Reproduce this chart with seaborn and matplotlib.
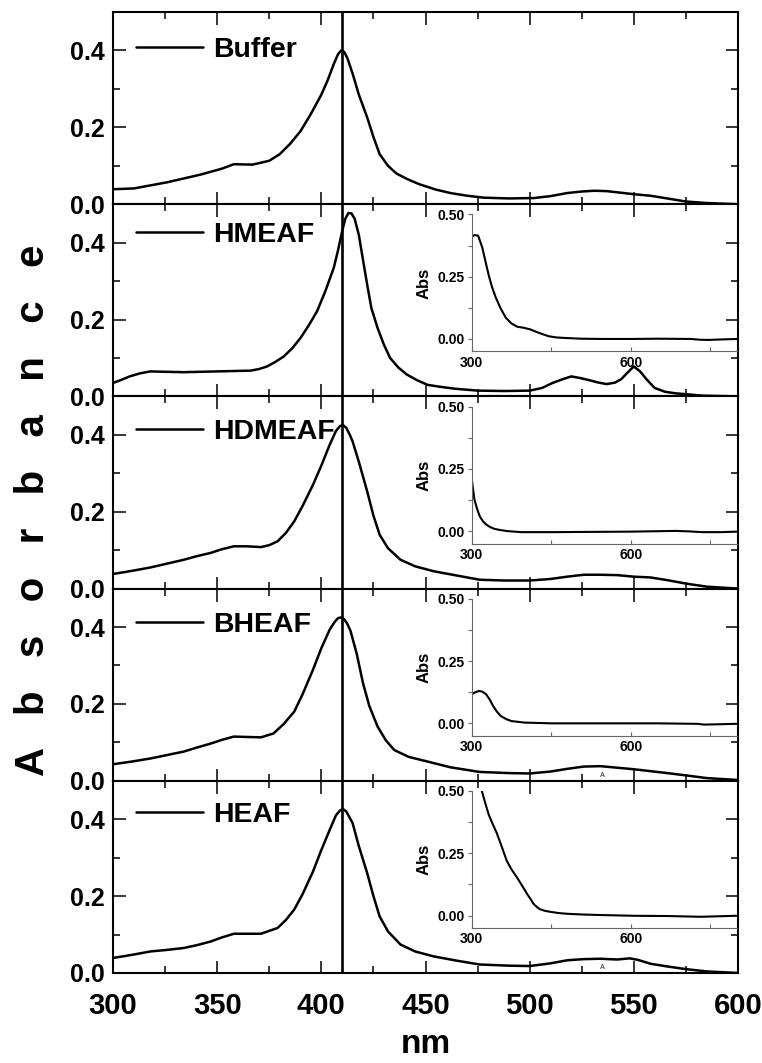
import matplotlib
matplotlib.use("Agg")
import matplotlib.pyplot as plt
import seaborn as sns
import numpy as np
import pandas as pd

# ---------------- data ----------------
names = ["Buffer", "HMEAF", "HDMEAF", "BHEAF", "HEAF"]

buffer_nm = [300, 310, 326, 342, 352, 358, 367, 375, 380, 385, 390, 395, 400, 403, 406, 408, 409.5,
             411, 412.5, 415, 418, 422, 425, 428, 432, 436, 441, 447, 455, 462, 470, 478, 490, 502,
             510, 518, 525, 531, 537, 542, 550, 558, 566, 575, 585, 600]
buffer_abs = [0.039, 0.041, 0.057, 0.077, 0.092, 0.104, 0.103, 0.113, 0.130, 0.157, 0.190, 0.235,
              0.285, 0.322, 0.365, 0.390, 0.400, 0.396, 0.380, 0.340, 0.285, 0.226, 0.175, 0.130,
              0.100, 0.080, 0.066, 0.052, 0.038, 0.029, 0.022, 0.017, 0.015, 0.016, 0.021, 0.029,
              0.033, 0.035, 0.034, 0.031, 0.026, 0.022, 0.015, 0.007, 0.003, 0.000]

hmeaf_nm = [300, 304, 308, 313, 318, 325, 334, 342, 350, 358, 366, 370, 374, 378, 382, 386, 390,
            394, 398, 402, 406, 408, 410, 411.5, 413, 414.5, 416, 418, 420, 422, 424, 427, 430,
            433, 437, 441, 446, 451, 457, 464, 475, 488, 500, 506, 511, 516, 520, 524, 528, 533,
            537, 541, 544, 547, 550, 553, 556, 560, 565, 570, 583, 600]
hmeaf_abs = [0.035, 0.043, 0.052, 0.060, 0.065, 0.064, 0.063, 0.064, 0.065, 0.066, 0.067, 0.071,
             0.078, 0.090, 0.104, 0.125, 0.152, 0.185, 0.222, 0.275, 0.335, 0.380, 0.430, 0.462,
             0.477, 0.476, 0.462, 0.420, 0.355, 0.291, 0.230, 0.178, 0.135, 0.100, 0.075, 0.057,
             0.042, 0.030, 0.025, 0.020, 0.015, 0.014, 0.015, 0.022, 0.035, 0.045, 0.052, 0.048,
             0.043, 0.036, 0.032, 0.036, 0.045, 0.062, 0.078, 0.065, 0.045, 0.022, 0.012, 0.008,
             0.002, 0.000]

hdmeaf_nm = [300, 309, 318, 326, 334, 340, 347, 352, 358, 364, 371, 375, 379, 383, 387, 391, 396,
             400, 404, 407, 409, 410.5, 412, 413.5, 415, 418, 422, 425, 428, 432, 438, 445, 454,
             465, 476, 488, 500, 510, 518, 526, 534, 542, 550, 558, 566, 575, 585, 600]
hdmeaf_abs = [0.038, 0.046, 0.055, 0.065, 0.075, 0.084, 0.093, 0.102, 0.110, 0.110, 0.108, 0.113,
              0.123, 0.145, 0.175, 0.215, 0.270, 0.320, 0.374, 0.410, 0.423, 0.425, 0.418, 0.402,
              0.383, 0.330, 0.253, 0.190, 0.140, 0.105, 0.075, 0.058, 0.045, 0.034, 0.023, 0.021,
              0.021, 0.025, 0.031, 0.036, 0.036, 0.035, 0.031, 0.029, 0.022, 0.013, 0.005, 0.000]

bheaf_nm = [300, 309, 318, 326, 334, 340, 347, 352, 358, 364, 371, 377, 382, 387, 391, 396, 400,
            404, 406.5, 408, 409.5, 411, 412.5, 414, 417, 420, 423, 427, 431, 435, 442, 451, 462,
            476, 490, 500, 510, 518, 526, 534, 542, 550, 558, 566, 575, 585, 600]
bheaf_abs = [0.043, 0.050, 0.058, 0.067, 0.076, 0.086, 0.097, 0.106, 0.115, 0.114, 0.113, 0.123,
             0.148, 0.180, 0.225, 0.289, 0.345, 0.393, 0.414, 0.423, 0.425, 0.420, 0.408, 0.390,
             0.330, 0.254, 0.195, 0.141, 0.105, 0.080, 0.062, 0.050, 0.035, 0.023, 0.020, 0.019,
             0.024, 0.031, 0.037, 0.038, 0.034, 0.030, 0.025, 0.020, 0.014, 0.007, 0.002]

heaf_nm = [300, 309, 318, 326, 334, 340, 347, 352, 358, 364, 371, 379, 383, 387, 391, 396, 400,
           404, 407, 409, 410.5, 412, 413.5, 415, 418, 422, 425, 428, 432, 438, 445, 454, 465,
           476, 490, 500, 510, 518, 526, 534, 542, 548, 552, 558, 566, 575, 585, 600]
heaf_abs = [0.039, 0.047, 0.056, 0.060, 0.065, 0.072, 0.082, 0.092, 0.102, 0.102, 0.102, 0.117,
            0.138, 0.165, 0.205, 0.264, 0.320, 0.372, 0.410, 0.423, 0.426, 0.420, 0.405, 0.390,
            0.330, 0.260, 0.200, 0.147, 0.108, 0.074, 0.056, 0.043, 0.032, 0.022, 0.019, 0.018,
            0.025, 0.033, 0.036, 0.037, 0.035, 0.038, 0.034, 0.024, 0.017, 0.010, 0.004, 0.000]

# inset spectra (300-800 nm)
hmeaf_in_nm = [300, 305, 312, 320, 326, 332, 338, 345, 354, 364, 375, 386, 398, 411, 426, 445,
               460, 476, 507, 550, 601, 650, 714, 730, 745, 770, 800]
hmeaf_in_abs = [0.410, 0.417, 0.415, 0.366, 0.310, 0.256, 0.210, 0.168, 0.125, 0.086, 0.062,
                0.049, 0.045, 0.038, 0.025, 0.011, 0.006, 0.004, 0.001, 0.000, 0.000, 0.001,
                0.000, -0.003, -0.004, -0.002, 0.000]

hdmeaf_in_nm = [300, 303, 305, 310, 315, 321, 327, 335, 343, 355, 368, 394, 450, 520, 600, 685,
                710, 736, 770, 800]
hdmeaf_in_abs = [0.207, 0.160, 0.127, 0.090, 0.060, 0.040, 0.027, 0.016, 0.009, 0.004, 0.000,
                 -0.004, -0.004, -0.003, -0.002, 0.001, -0.001, -0.004, -0.004, -0.002]

bheaf_in_nm = [300, 307, 314, 320, 327, 334, 340, 347, 355, 365, 375, 400, 451, 550, 650, 726,
               738, 760, 799]
bheaf_in_abs = [0.117, 0.125, 0.130, 0.127, 0.117, 0.095, 0.071, 0.048, 0.029, 0.017, 0.009,
                0.003, 0.000, 0.000, 0.000, -0.002, -0.005, -0.004, -0.002]

heaf_in_nm = [319, 325, 332, 340, 347, 356, 366, 375, 385, 395, 404, 411, 417, 423, 429, 438,
              448, 464, 480, 510, 543, 606, 670, 733, 765, 799]
heaf_in_abs = [0.500, 0.455, 0.405, 0.365, 0.332, 0.280, 0.220, 0.185, 0.154, 0.120, 0.088,
               0.066, 0.046, 0.034, 0.025, 0.019, 0.015, 0.010, 0.007, 0.004, 0.002, -0.001,
               -0.002, -0.005, -0.003, -0.001]

main_x = [buffer_nm, hmeaf_nm, hdmeaf_nm, bheaf_nm, heaf_nm]
main_y = [buffer_abs, hmeaf_abs, hdmeaf_abs, bheaf_abs, heaf_abs]
inset_x = [None, hmeaf_in_nm, hdmeaf_in_nm, bheaf_in_nm, heaf_in_nm]
inset_y = [None, hmeaf_in_abs, hdmeaf_in_abs, bheaf_in_abs, heaf_in_abs]

marker_line_nm = 410
main_xticks = [300, 350, 400, 450, 500, 550, 600]
main_yticks = [0.0, 0.2, 0.4]
main_yticklabels = ["0.0", "0.2", "0.4"]
inset_xticks = [300, 600]
inset_yticks = [0.0, 0.25, 0.50]
inset_yticklabels = ["0.00", "0.25", "0.50"]

# ---------------- style ----------------
sns.set_style("ticks")
plt.rcParams["font.family"] = ["Liberation Sans", "DejaVu Sans"]
plt.rcParams["font.weight"] = "bold"
plt.rcParams["axes.linewidth"] = 1.5
for key in ("text.color", "axes.labelcolor", "xtick.color", "ytick.color", "axes.edgecolor",
            "xtick.labelcolor", "ytick.labelcolor"):
    plt.rcParams[key] = "black"

fig = plt.figure(figsize=(7.62, 10.63), dpi=100)
axes = fig.subplots(5, 1, sharex=True)
fig.subplots_adjust(left=0.1483, right=0.9685, top=0.9887, bottom=0.0847, hspace=0)

legend_y = [0.80, 0.84, 0.815, 0.81, 0.822]

for i, ax in enumerate(axes):
    df = pd.DataFrame({"nm": main_x[i], "abs": main_y[i]})
    sns.lineplot(data=df, x="nm", y="abs", ax=ax, color="black", lw=1.8,
                 label=names[i], sort=False)
    for ln in ax.get_lines():
        ln.set_solid_joinstyle("round")
    ax.axvline(marker_line_nm, color="black", lw=1.9, zorder=5)
    ax.set_xlim(300, 600)
    ax.set_ylim(0, 0.5)
    ax.set_yticks(main_yticks)
    ax.set_yticklabels(main_yticklabels)
    ax.set_yticks([0.1, 0.3], minor=True)
    ax.set_xticks(main_xticks)
    ax.set_xticks([325, 375, 425, 475, 525, 575], minor=True)
    ax.tick_params(which="both", direction="in", top=True, right=True, width=1.1,
                   color="black", labelcolor="black")
    ax.tick_params(which="major", length=9, labelsize=18)
    ax.tick_params(which="minor", length=5)
    ax.tick_params(axis="x", labelsize=21, pad=14)
    ax.tick_params(axis="y", pad=6)
    for lab in ax.get_yticklabels() + ax.get_xticklabels():
        lab.set_fontweight("bold")
    ax.set_ylabel("")
    ax.set_xlabel("")
    for sp in ax.spines.values():
        sp.set_linewidth(1.5)
        sp.set_color("black")
        sp.set_visible(True)
    leg = ax.legend(loc="center left", bbox_to_anchor=(0.037, legend_y[i]), frameon=False,
                    borderpad=0, borderaxespad=0, handlelength=2.35, handletextpad=0.35,
                    prop={"family": "Liberation Sans", "weight": "bold", "size": 20.5})
    for h in leg.legend_handles:
        h.set_linewidth(1.8)
    for t in leg.get_texts():
        t.set_color("black")

    if inset_x[i] is not None:
        ins = ax.inset_axes([0.574, 0.234, 0.424, 0.713])
        ins.set_facecolor("none")
        dfi = pd.DataFrame({"nm": inset_x[i], "abs": inset_y[i]})
        sns.lineplot(data=dfi, x="nm", y="abs", ax=ins, color="black", lw=1.5, sort=False)
        for ln in ins.get_lines():
            ln.set_solid_joinstyle("round")
        ins.set_xlim(300, 800)
        ins.set_ylim(-0.05, 0.5)
        ins.spines["top"].set_visible(False)
        ins.spines["right"].set_visible(False)
        for s in ("left", "bottom"):
            ins.spines[s].set_color("#666666")
            ins.spines[s].set_linewidth(0.8)
        ins.set_xticks(inset_xticks)
        ins.set_xticks([450, 750], minor=True)
        ins.set_yticks(inset_yticks)
        ins.set_yticklabels(inset_yticklabels)
        ins.set_yticks([0.125, 0.375], minor=True)
        ins.tick_params(axis="y", which="both", direction="out", length=3, width=0.8,
                        color="#666666", labelcolor="black", labelsize=10, pad=2)
        ins.tick_params(axis="x", which="both", direction="in", length=3, width=0.8,
                        color="#666666", labelcolor="black", labelsize=10, pad=3)
        for lab in ins.get_yticklabels() + ins.get_xticklabels():
            lab.set_fontweight("bold")
        ins.set_xlabel("")
        ins.set_ylabel("Abs", fontsize=12, fontweight="bold", labelpad=4, color="black")

# small stray "A" marks present in the original
for i in (3, 4):
    axes[i].text(535, 0.014, "A", fontsize=5, color="#555555", ha="center", va="center")

axes[-1].set_xlabel("nm", fontsize=24, fontweight="bold", labelpad=6, color="black")

fig.text(0.043, 0.52, "A   b   s   o   r   b   a   n   c   e", rotation=90, fontsize=29,
         fontweight="bold", ha="center", va="center", color="black")

fig.savefig("out.png", dpi=100)
